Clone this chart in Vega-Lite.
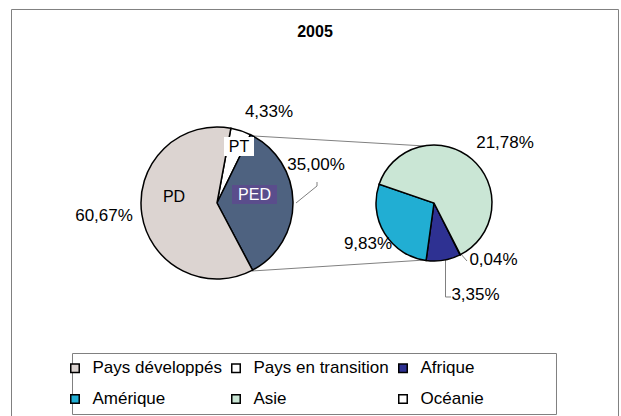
{
  "$schema": "https://vega.github.io/schema/vega-lite/v6.json",
  "width": 621,
  "height": 416,
  "autosize": {"type": "none"},
  "padding": 0,
  "background": "white",
  "title": {"text": "2005", "font": "Liberation Sans", "fontSize": 16, "fontWeight": "bold", "color": "#000000", "anchor": "middle", "frame": "group", "offset": -53, "baseline": "alphabetic", "dx": 4.5},
  "datasets": {
    "mondial": [
      {"groupe": "Pays en transition", "abrege": "PT", "part": 0.0433},
      {"groupe": "Pays en développement", "abrege": "PED", "part": 0.35},
      {"groupe": "Pays développés", "abrege": "PD", "part": 0.6067}
    ],
    "ped": [
      {"groupe": "Océanie", "part": 0.0004},
      {"groupe": "Afrique", "part": 0.0335},
      {"groupe": "Amérique", "part": 0.0983},
      {"groupe": "Asie", "part": 0.2178}
    ]
  },
  "layer": [
    {
      "data": {"values": [{}]},
      "mark": {"type": "rect", "filled": false, "stroke": "#808080", "strokeWidth": 1},
      "encoding": {
        "x": {"datum": -2.7039, "type": "quantitative", "scale": {"domain": [-2.8553, 5.3158], "nice": false, "zero": false}, "axis": null},
        "x2": {"datum": 5.2829},
        "y": {"datum": 2.5461, "type": "quantitative", "scale": {"domain": [-2.8026, 2.6711], "nice": false, "zero": false}, "axis": null},
        "y2": {"datum": -2.9}
      }
    },
    {
      "data": {"values": [{}]},
      "mark": {"type": "rect", "filled": false, "stroke": "#808080", "strokeWidth": 1},
      "encoding": {
        "x": {"datum": -1.9013, "type": "quantitative"},
        "x2": {"datum": 4.4671},
        "y": {"datum": -1.9803, "type": "quantitative"},
        "y2": {"datum": -2.7829}
      }
    },
    {
      "data": {"values": [{}]},
      "mark": {"type": "rule", "stroke": "#808080", "strokeWidth": 1},
      "encoding": {
        "x": {"datum": 0.4868, "type": "quantitative"}, "y": {"datum": 0.8816, "type": "quantitative"},
        "x2": {"datum": 2.7368}, "y2": {"datum": 0.75}
      }
    },
    {
      "data": {"values": [{}]},
      "mark": {"type": "rule", "stroke": "#808080", "strokeWidth": 1},
      "encoding": {
        "x": {"datum": 0.4605, "type": "quantitative"}, "y": {"datum": -0.8947, "type": "quantitative"},
        "x2": {"datum": 2.7368}, "y2": {"datum": -0.75}
      }
    },
    {
      "data": {"values": [{}]},
      "mark": {"type": "rule", "stroke": "#808080", "strokeWidth": 1},
      "encoding": {
        "x": {"datum": 1.3158, "type": "quantitative"}, "y": {"datum": 0.2763, "type": "quantitative"},
        "x2": {"datum": 1.3158}, "y2": {"datum": 0.2237}
      }
    },
    {
      "data": {"values": [{}]},
      "mark": {"type": "rule", "stroke": "#808080", "strokeWidth": 1},
      "encoding": {
        "x": {"datum": 1.3158, "type": "quantitative"}, "y": {"datum": 0.2237, "type": "quantitative"},
        "x2": {"datum": 1.0395}, "y2": {"datum": 0}
      }
    },
    {
      "data": {"values": [{}]},
      "mark": {"type": "rule", "stroke": "#808080", "strokeWidth": 1},
      "encoding": {
        "x": {"datum": 3.1974, "type": "quantitative"}, "y": {"datum": -0.6579, "type": "quantitative"},
        "x2": {"datum": 3.2895}, "y2": {"datum": -0.7632}
      }
    },
    {
      "data": {"values": [{}]},
      "mark": {"type": "rule", "stroke": "#808080", "strokeWidth": 1},
      "encoding": {
        "x": {"datum": 3.0066, "type": "quantitative"}, "y": {"datum": -0.75, "type": "quantitative"},
        "x2": {"datum": 3.0066}, "y2": {"datum": -1.2368}
      }
    },
    {
      "data": {"values": [{}]},
      "mark": {"type": "rule", "stroke": "#808080", "strokeWidth": 1},
      "encoding": {
        "x": {"datum": 3.0066, "type": "quantitative"}, "y": {"datum": -1.2368, "type": "quantitative"},
        "x2": {"datum": 3.0789}, "y2": {"datum": -1.2368}
      }
    },
    {
      "data": {"name": "mondial"},
      "mark": {"type": "arc", "radius": 76, "stroke": "#000000", "strokeWidth": 1.5},
      "encoding": {
        "x": {"datum": 0, "type": "quantitative"},
        "y": {"datum": 0, "type": "quantitative"},
        "theta": {"field": "part", "type": "quantitative", "stack": true, "scale": {"range": [0.1833, 6.4665]}},
        "order": {"field": "part", "type": "quantitative", "sort": "ascending"},
        "color": {
          "field": "groupe", "type": "nominal",
          "scale": {
            "domain": ["Pays développés", "Pays en transition", "Afrique", "Amérique", "Asie", "Océanie", "Pays en développement"],
            "range": ["#DCD4D1", "#FFFFFF", "#2E3192", "#21AED3", "#CAE6D5", "#FFFFFF", "#4E6280"]
          },
          "legend": {
            "values": ["Pays développés", "Pays en transition", "Afrique", "Amérique", "Asie", "Océanie"],
            "title": null, "orient": "none", "legendX": 66.5, "legendY": 359.5,
            "direction": "horizontal", "columns": 3, "padding": 0,
            "symbolType": "square", "symbolSize": 72, "symbolStrokeColor": "#000000", "symbolStrokeWidth": 1.5, "symbolOpacity": 1,
            "labelFont": "Liberation Sans", "labelFontSize": 17, "labelColor": "#000000", "labelOffset": 9, "labelLimit": 300,
            "columnPadding": 5, "rowPadding": 13
          }
        }
      }
    },
    {
      "data": {"name": "ped"},
      "mark": {"type": "arc", "radius": 58, "stroke": "#000000", "strokeWidth": 1.5},
      "encoding": {
        "x": {"datum": 2.8553, "type": "quantitative"},
        "y": {"datum": 0, "type": "quantitative"},
        "theta": {"field": "part", "type": "quantitative", "stack": true, "scale": {"range": [2.67, 8.9532]}},
        "order": {"field": "part", "type": "quantitative", "sort": "ascending"},
        "color": {"field": "groupe", "type": "nominal"}
      }
    },
    {
      "data": {"values": [{}]},
      "mark": {"type": "rect", "fill": "#FFFFFF", "strokeWidth": 0},
      "encoding": {
        "x": {"datum": 0.0921, "type": "quantitative"}, "x2": {"datum": 0.4868},
        "y": {"datum": 0.8684, "type": "quantitative"}, "y2": {"datum": 0.6184}
      }
    },
    {
      "data": {"values": [{}]},
      "mark": {"type": "rect", "fill": "#5A4D8C", "strokeWidth": 0},
      "encoding": {
        "x": {"datum": 0.1974, "type": "quantitative"}, "x2": {"datum": 0.7895},
        "y": {"datum": 0.2368, "type": "quantitative"}, "y2": {"datum": -0.0132}
      }
    },
    {
      "data": {"name": "mondial"},
      "transform": [{"filter": "datum.abrege === 'PD'"}],
      "mark": {"type": "text", "font": "Liberation Sans", "fontSize": 16, "color": "#000000", "align": "center", "baseline": "middle"},
      "encoding": {"x": {"datum": -0.5658, "type": "quantitative"}, "y": {"datum": 0.0789, "type": "quantitative"}, "text": {"field": "abrege"}}
    },
    {
      "data": {"name": "mondial"},
      "transform": [{"filter": "datum.abrege === 'PT'"}],
      "mark": {"type": "text", "font": "Liberation Sans", "fontSize": 16, "color": "#000000", "align": "center", "baseline": "middle"},
      "encoding": {"x": {"datum": 0.2895, "type": "quantitative"}, "y": {"datum": 0.7368, "type": "quantitative"}, "text": {"field": "abrege"}}
    },
    {
      "data": {"name": "mondial"},
      "transform": [{"filter": "datum.abrege === 'PED'"}],
      "mark": {"type": "text", "font": "Liberation Sans", "fontSize": 16, "color": "#FFFFFF", "align": "center", "baseline": "middle"},
      "encoding": {"x": {"datum": 0.4934, "type": "quantitative"}, "y": {"datum": 0.1053, "type": "quantitative"}, "text": {"field": "abrege"}}
    },
    {
      "data": {"name": "mondial"},
      "transform": [{"filter": "datum.abrege === 'PD'"}],
      "mark": {"type": "text", "font": "Liberation Sans", "fontSize": 17, "color": "#000000", "align": "center", "baseline": "middle"},
      "encoding": {"x": {"datum": -1.4868, "type": "quantitative"}, "y": {"datum": -0.1711, "type": "quantitative"}, "text": {"field": "part", "type": "quantitative", "format": ".2%"}}
    },
    {
      "data": {"name": "mondial"},
      "transform": [{"filter": "datum.abrege === 'PT'"}],
      "mark": {"type": "text", "font": "Liberation Sans", "fontSize": 17, "color": "#000000", "align": "center", "baseline": "middle"},
      "encoding": {"x": {"datum": 0.6842, "type": "quantitative"}, "y": {"datum": 1.1974, "type": "quantitative"}, "text": {"field": "part", "type": "quantitative", "format": ".2%"}}
    },
    {
      "data": {"name": "mondial"},
      "transform": [{"filter": "datum.abrege === 'PED'"}],
      "mark": {"type": "text", "font": "Liberation Sans", "fontSize": 17, "color": "#000000", "align": "center", "baseline": "middle"},
      "encoding": {"x": {"datum": 1.3026, "type": "quantitative"}, "y": {"datum": 0.5, "type": "quantitative"}, "text": {"field": "part", "type": "quantitative", "format": ".2%"}}
    },
    {
      "data": {"name": "ped"},
      "transform": [{"filter": "datum.groupe === 'Asie'"}],
      "mark": {"type": "text", "font": "Liberation Sans", "fontSize": 17, "color": "#000000", "align": "center", "baseline": "middle"},
      "encoding": {"x": {"datum": 3.7895, "type": "quantitative"}, "y": {"datum": 0.7895, "type": "quantitative"}, "text": {"field": "part", "type": "quantitative", "format": ".2%"}}
    },
    {
      "data": {"name": "ped"},
      "transform": [{"filter": "datum.groupe === 'Amérique'"}],
      "mark": {"type": "text", "font": "Liberation Sans", "fontSize": 17, "color": "#000000", "align": "center", "baseline": "middle"},
      "encoding": {"x": {"datum": 1.9868, "type": "quantitative"}, "y": {"datum": -0.5329, "type": "quantitative"}, "text": {"field": "part", "type": "quantitative", "format": ".2%"}}
    },
    {
      "data": {"name": "ped"},
      "transform": [{"filter": "datum.groupe === 'Océanie'"}],
      "mark": {"type": "text", "font": "Liberation Sans", "fontSize": 17, "color": "#000000", "align": "center", "baseline": "middle"},
      "encoding": {"x": {"datum": 3.6382, "type": "quantitative"}, "y": {"datum": -0.7434, "type": "quantitative"}, "text": {"field": "part", "type": "quantitative", "format": ".2%"}}
    },
    {
      "data": {"name": "ped"},
      "transform": [{"filter": "datum.groupe === 'Afrique'"}],
      "mark": {"type": "text", "font": "Liberation Sans", "fontSize": 17, "color": "#000000", "align": "center", "baseline": "middle"},
      "encoding": {"x": {"datum": 3.4013, "type": "quantitative"}, "y": {"datum": -1.2105, "type": "quantitative"}, "text": {"field": "part", "type": "quantitative", "format": ".2%"}}
    }
  ],
  "resolve": {"scale": {"theta": "independent"}},
  "config": {
    "view": {"stroke": null},
    "axis": {"disable": true},
    "locale": {"number": {"decimal": ",", "thousands": " ", "grouping": [3], "currency": ["", " €"]}}
  }
}
